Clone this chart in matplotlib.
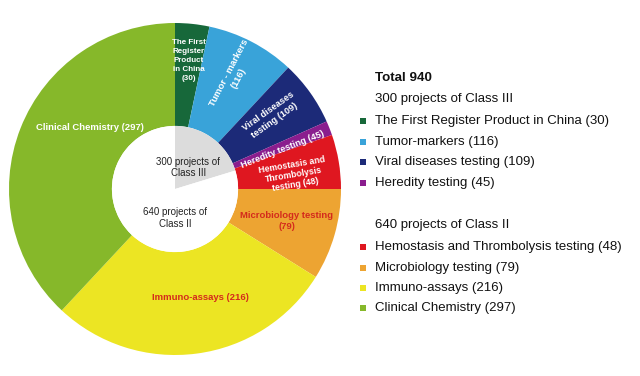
import matplotlib
matplotlib.use("Agg")
import matplotlib.pyplot as plt
import numpy as np

plt.rcParams['font.family'] = ['Liberation Sans', 'DejaVu Sans']

# ---- data ----
categories = ["The First Register Product in China", "Tumor-markers", "Viral diseases testing",
              "Heredity testing", "Hemostasis and Thrombolysis testing", "Microbiology testing",
              "Immuno-assays", "Clinical Chemistry"]
counts = [30, 116, 109, 45, 48, 79, 216, 297]
# visual angular span of each wedge as drawn in the reference (degrees)
spans = [12, 31, 23, 5, 19, 32, 101, 137]
colors = ["#17683a", "#39a3d9", "#1c2a78", "#8a1d8e", "#df1720", "#eda432", "#ece523", "#86b82a"]
wedge_labels = ["The First\nRegister\nProduct\nin China\n(30)", "Tumor - markers\n(116)",
                "Viral diseases\ntesting (109)", "Heredity testing (45)",
                "Hemostasis and\nThrombolysis\ntesting (48)", "Microbiology testing\n(79)",
                "Immuno-assays (216)", "Clinical Chemistry (297)"]
label_colors = ["white", "white", "white", "white", "white", "#d42a1c", "#d42a1c", "white"]
label_radius = [0.78, 0.77, 0.73, 0.69, 0.72, 0.70, 0.67, 0.63]
label_angle_shift = [0, 0, 1.5, -1.5, -2.7, 0, 5.5, -14.5]
label_rotate = [False, True, True, True, True, False, False, False]
label_size = [5.8, 6.8, 6.6, 6.6, 6.3, 6.8, 6.8, 6.8]
label_spacing = [1.4, 1.25, 1.25, 1.25, 1.2, 1.25, 1.25, 1.25]

class_names = ["300 projects of\nClass III", "640 projects of\nClass II"]
class_spans = [73, 287]
class_colors = ["#dcdcdc", "white"]

total_title = "Total 940"
group_headers = ["300 projects of Class III", "640 projects of Class II"]
group_members = [[0, 1, 2, 3], [4, 5, 6, 7]]

W, H = 640, 376
fig = plt.figure(figsize=(W / 100, H / 100), dpi=100)

cx, cy, R = 175, 189, 166
ax = fig.add_axes([(cx - R) / W, (H - cy - R) / H, 2 * R / W, 2 * R / H])

hole = 0.38
wedges, _ = ax.pie(spans, colors=colors, startangle=90, counterclock=False, radius=1.0,
                   wedgeprops=dict(width=1 - hole, edgecolor='none'))
inner, _ = ax.pie(class_spans, colors=class_colors, startangle=90, counterclock=False,
                  radius=hole, wedgeprops=dict(edgecolor='none'))
ax.set_xlim(-1, 1)
ax.set_ylim(-1, 1)
ax.set_aspect('equal')
ax.axis('off')

for w, lab, col, r, sh, rot, fs, ls in zip(wedges, wedge_labels, label_colors, label_radius,
                                            label_angle_shift, label_rotate, label_size,
                                            label_spacing):
    ang = (w.theta1 + w.theta2) / 2
    pos = np.deg2rad(ang + sh)
    ax.text(r * np.cos(pos), r * np.sin(pos), lab, color=col, fontsize=fs, fontweight='bold',
            ha='center', va='center', rotation=ang if rot else 0, linespacing=ls,
            rotation_mode='anchor')

# inner labels
ax.text(0.08, 0.13, class_names[0], fontsize=7.0, ha='center', va='center', color='#222222',
        linespacing=1.2)
ax.text(0.0, -0.175, class_names[1], fontsize=7.0, ha='center', va='center', color='#222222',
        linespacing=1.2)

# legend overlay
lg = fig.add_axes([0, 0, 1, 1])
lg.set_xlim(0, W)
lg.set_ylim(H, 0)
lg.axis('off')
tx = 375
mx = 363
lg.text(tx, 78, total_title, fontsize=9.6, fontweight='bold', va='center', ha='left', color='#111111')
rows_y = [[121, 142, 162, 183], [247, 268, 288, 308]]
header_y = [99, 225]
for g in range(2):
    lg.text(tx, header_y[g], group_headers[g], fontsize=9.5, va='center', ha='left', color='#111111')
    for i, y in zip(group_members[g], rows_y[g]):
        lg.scatter([mx], [y], marker='s', s=17, color=colors[i], linewidths=0)
        lg.text(tx, y, f"{categories[i]} ({counts[i]})", fontsize=9.5, va='center', ha='left',
                color='#111111')

fig.savefig("out.png", dpi=100)
